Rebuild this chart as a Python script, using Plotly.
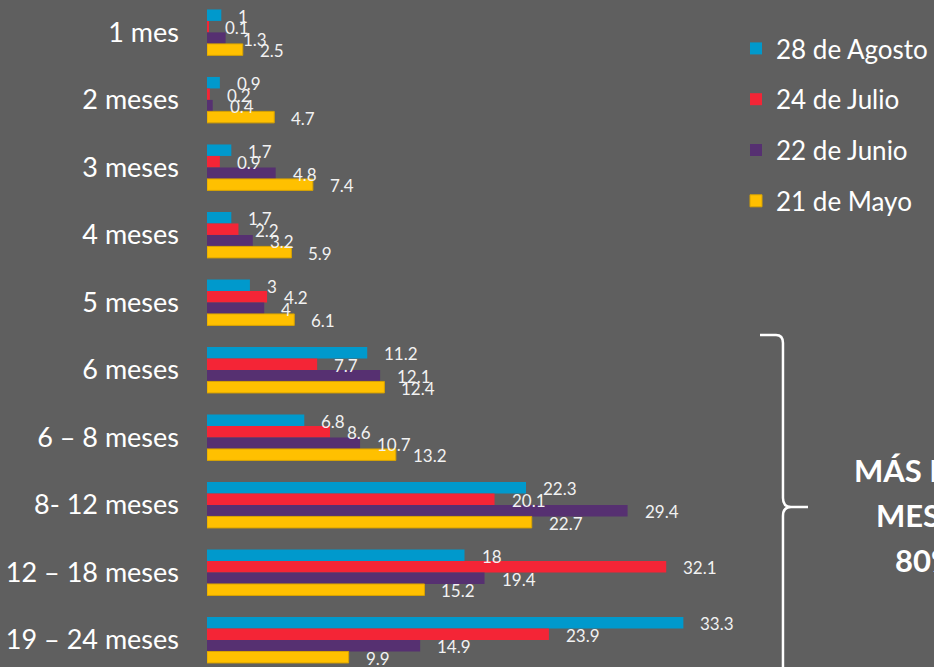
import plotly.graph_objects as go

# datos
categorias = ["1 mes", "2 meses", "3 meses", "4 meses", "5 meses", "6 meses",
              "6 – 8 meses", "8- 12 meses", "12 – 18 meses", "19 – 24 meses"]
agosto_28 = [1, 0.9, 1.7, 1.7, 3, 11.2, 6.8, 22.3, 18, 33.3]
julio_24 = [0.1, 0.2, 0.9, 2.2, 4.2, 7.7, 8.6, 20.1, 32.1, 23.9]
junio_22 = [1.3, 0.4, 4.8, 3.2, 4, 12.1, 10.7, 29.4, 19.4, 14.9]
mayo_21 = [2.5, 4.7, 7.4, 5.9, 6.1, 12.4, 13.2, 22.7, 15.2, 9.9]
nota = ["MÁS DE 6", "MESES", "80%"]

series = [
    ("28 de Agosto", agosto_28, "#0099CC"),
    ("24 de Julio", julio_24, "#F42536"),
    ("22 de Junio", junio_22, "#563071"),
    ("21 de Mayo", mayo_21, "#FFC000"),
]

W, H = 934, 667
ML, MR = 207, 212
FONT = "Lato"
BG = "#5F5F5F"
BARGAP = 0.32
Y_RANGE = [9.40, -0.48]

fig = go.Figure()
for i, (nombre, vals, color) in enumerate(series):
    borde = "#D9A400" if i == 3 else color
    fig.add_trace(go.Bar(
        y=categorias, x=vals, name=nombre, orientation="h",
        marker=dict(color=color, line=dict(color=borde, width=1 if i == 3 else 0)),
        legendgroup=nombre,
    ))

# etiquetas de valor a la derecha de cada barra
px_por_cat = H / abs(Y_RANGE[0] - Y_RANGE[1])
ancho_barra = px_por_cat * (1 - BARGAP) / len(series)
for i, (nombre, vals, color) in enumerate(series):
    dy = (1.5 - i) * ancho_barra - 1
    for cat, v in zip(categorias, vals):
        fig.add_annotation(x=v, y=cat, xref="x", yref="y", text=str(v),
                           showarrow=False, xanchor="left", xshift=15, yshift=dy,
                           font=dict(family=FONT, size=17, color="#F2F2F2"))


# llave y texto de la derecha (pixeles -> papel)
def px(xp):
    return (xp - ML) / (W - ML - MR)


def py(yp):
    return 1 - yp / H


def p(xp, yp):
    return f"{px(xp):.4f},{py(yp):.4f}"


llave = (f"M {p(760, 335)} L {p(776, 335)} Q {p(783, 335)} {p(783, 343)} "
         f"L {p(783, 498)} Q {p(783, 507)} {p(791, 507)} L {p(808, 507)} "
         f"M {p(791, 507)} Q {p(783, 507)} {p(783, 516)} L {p(783, 690)}")
fig.add_shape(type="path", path=llave, xref="paper", yref="paper",
              line=dict(color="white", width=2.5))

for k, linea in enumerate(nota):
    fig.add_annotation(x=px(925), y=py(470 + 45 * k), xref="paper", yref="paper",
                       text=f"<b>{linea}</b>", showarrow=False,
                       xanchor="center", yanchor="middle",
                       font=dict(family=FONT, size=31, color="white"))

fig.update_layout(
    width=W, height=H,
    barmode="group", bargap=BARGAP, bargroupgap=0,
    paper_bgcolor=BG, plot_bgcolor=BG,
    margin=dict(l=ML, r=MR, t=0, b=0, pad=0),
    font=dict(family=FONT, color="white"),
    hovermode=False,
    legend=dict(x=px(736), y=py(25), xanchor="left", yanchor="top",
                traceorder="grouped", tracegroupgap=14, bgcolor="rgba(0,0,0,0)",
                font=dict(family=FONT, size=26, color="white")),
)
fig.update_xaxes(range=[0, 36], visible=False, showgrid=False, zeroline=False)
fig.update_yaxes(range=Y_RANGE, showgrid=False, zeroline=False, showline=False,
                 ticks="", ticklabelstandoff=27,
                 tickfont=dict(family=FONT, size=27, color="white"))

fig.write_html("out.html", config={"displayModeBar": False},
               post_script="document.body.style.margin='0';")
